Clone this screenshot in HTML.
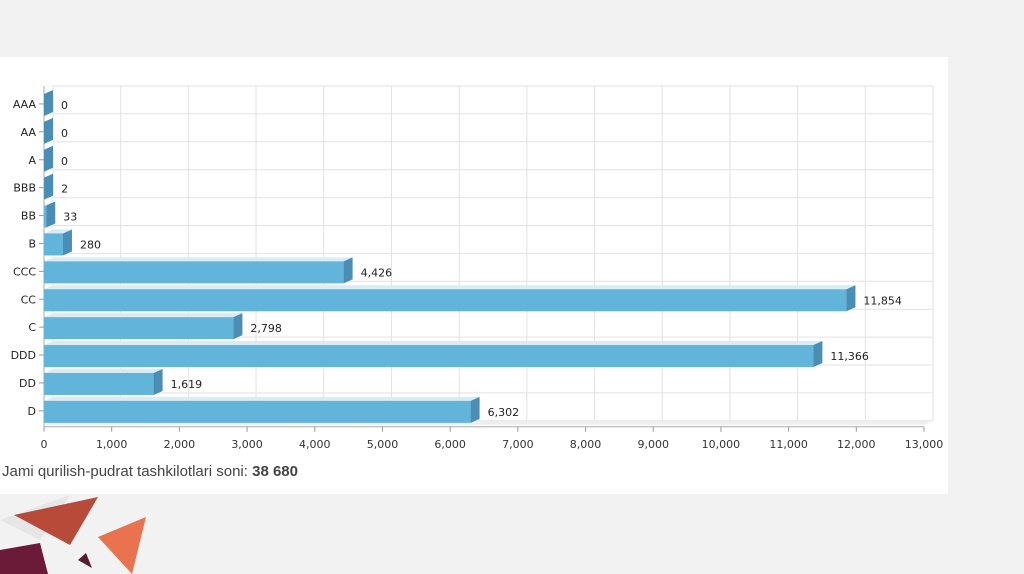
<!DOCTYPE html>
<html><head><meta charset="utf-8"><style>
html,body{margin:0;padding:0;width:1024px;height:574px;overflow:hidden;background:#f2f2f2;font-family:"Liberation Sans",sans-serif;}
#panel{position:absolute;left:0;top:57px;width:948px;height:437px;background:#fff;}
svg{position:absolute;left:0;top:0;}
</style></head><body>
<svg width="1024" height="574">
<polygon points="0,520 70,495 40,540" fill="#e6e6e6"/>
<polygon points="14,515 98,497 70,545" fill="#b84a3a"/>
<polygon points="98,537 146,517 132,574" fill="#e9734e"/>
<polygon points="0,550 40,543 48,574 0,574" fill="#6b1a38"/>
<polygon points="78,560 86,553 92,568" fill="#5a1a30"/>
</svg>
<div id="panel"></div>
<svg id="chart" width="1024" height="574"></svg>
<div style="position:absolute;left:2px;top:463px;font-size:15px;color:#444;">Jami qurilish-pudrat tashkilotlari soni: <b>38 680</b></div>
<script>
const categories=["AAA","AA","A","BBB","BB","B","CCC","CC","C","DDD","DD","D"];
const values=[0,0,0,2,33,280,4426,11854,2798,11366,1619,6302];
const valueLabels=["0","0","0","2","33","280","4,426","11,854","2,798","11,366","1,619","6,302"];
const ticks=[0,1000,2000,3000,4000,5000,6000,7000,8000,9000,10000,11000,12000,13000];
const tickLabels=["0","1,000","2,000","3,000","4,000","5,000","6,000","7,000","8,000","9,000","10,000","11,000","12,000","13,000"];
const NS="http://www.w3.org/2000/svg";
const svg=document.getElementById('chart');
const X0=44,XMAX=13000,W=880,TOP=90,ROW=27.9,DX=9,DY=4;
const xs=v=>X0+v/XMAX*W;
const yc=i=>TOP+ROW*(i+0.5);
function el(t,a,p){const e=document.createElementNS(NS,t);for(const k in a)e.setAttribute(k,a[k]);(p||svg).appendChild(e);return e;}
// back wall grid
const grid=el('g',{});


ticks.forEach(t=>{el('line',{x1:xs(t)+DX,x2:xs(t)+DX,y1:TOP-DY,y2:TOP-DY+ROW*categories.length,stroke:'#e2e2e2','stroke-width':1},grid);});
for(let i=0;i<=categories.length;i++){el('line',{x1:X0+DX,x2:xs(XMAX)+DX,y1:TOP-DY+ROW*i,y2:TOP-DY+ROW*i,stroke:'#e2e2e2','stroke-width':1},grid);}
// floor
el('polygon',{points:`${X0},${TOP+ROW*12} ${xs(XMAX)},${TOP+ROW*12} ${xs(XMAX)+DX},${TOP+ROW*12-DY} ${X0+DX},${TOP+ROW*12-DY}`,fill:'#eeeeee'});
// axes
const ax=el('g',{});


el('line',{x1:X0,x2:xs(XMAX),y1:TOP+ROW*12+2,y2:TOP+ROW*12+2,stroke:'#aaa'},ax);
ticks.forEach((t,i)=>{el('line',{x1:xs(t),x2:xs(t),y1:TOP+ROW*12+2,y2:TOP+ROW*12+7,stroke:'#999'},ax);
const tx=el('text',{x:xs(t),y:TOP+ROW*12+23,'text-anchor':'middle','font-size':11,fill:'#333','font-family':'DejaVu Sans, sans-serif'},ax);tx.textContent=tickLabels[i];

});
el('line',{x1:X0,x2:X0,y1:TOP-DY,y2:TOP+ROW*12+2,stroke:'#aaa'},ax);
// bars
categories.forEach((c,i)=>{
const y=yc(i),h=22,y1=y-h/2+1,x1=xs(values[i]);
const g=el('g',{});


el('polygon',{points:`${X0},${y1} ${x1},${y1} ${x1+DX},${y1-DY} ${X0+DX},${y1-DY}`,fill:'#d8ecf5'},g);
el('rect',{x:X0,y:y1,width:Math.max(0,x1-X0),height:h,fill:'#62b4db'},g);
el('polygon',{points:`${x1},${y1} ${x1+DX},${y1-DY} ${x1+DX},${y1+h-DY} ${x1},${y1+h}`,fill:'#4a8db5'},g);
const lb=el('text',{x:x1+DX+8,y:y+5,'font-size':11,fill:'#222','font-family':'DejaVu Sans, sans-serif'},g);lb.textContent=valueLabels[i];


el('line',{x1:X0-5,x2:X0,y1:y,y2:y,stroke:'#999'});
const cl=el('text',{x:X0-8,y:y+4,'text-anchor':'end','font-size':11,fill:'#222','font-family':'DejaVu Sans, sans-serif'});cl.textContent=c;


});
</script>
</body></html>
